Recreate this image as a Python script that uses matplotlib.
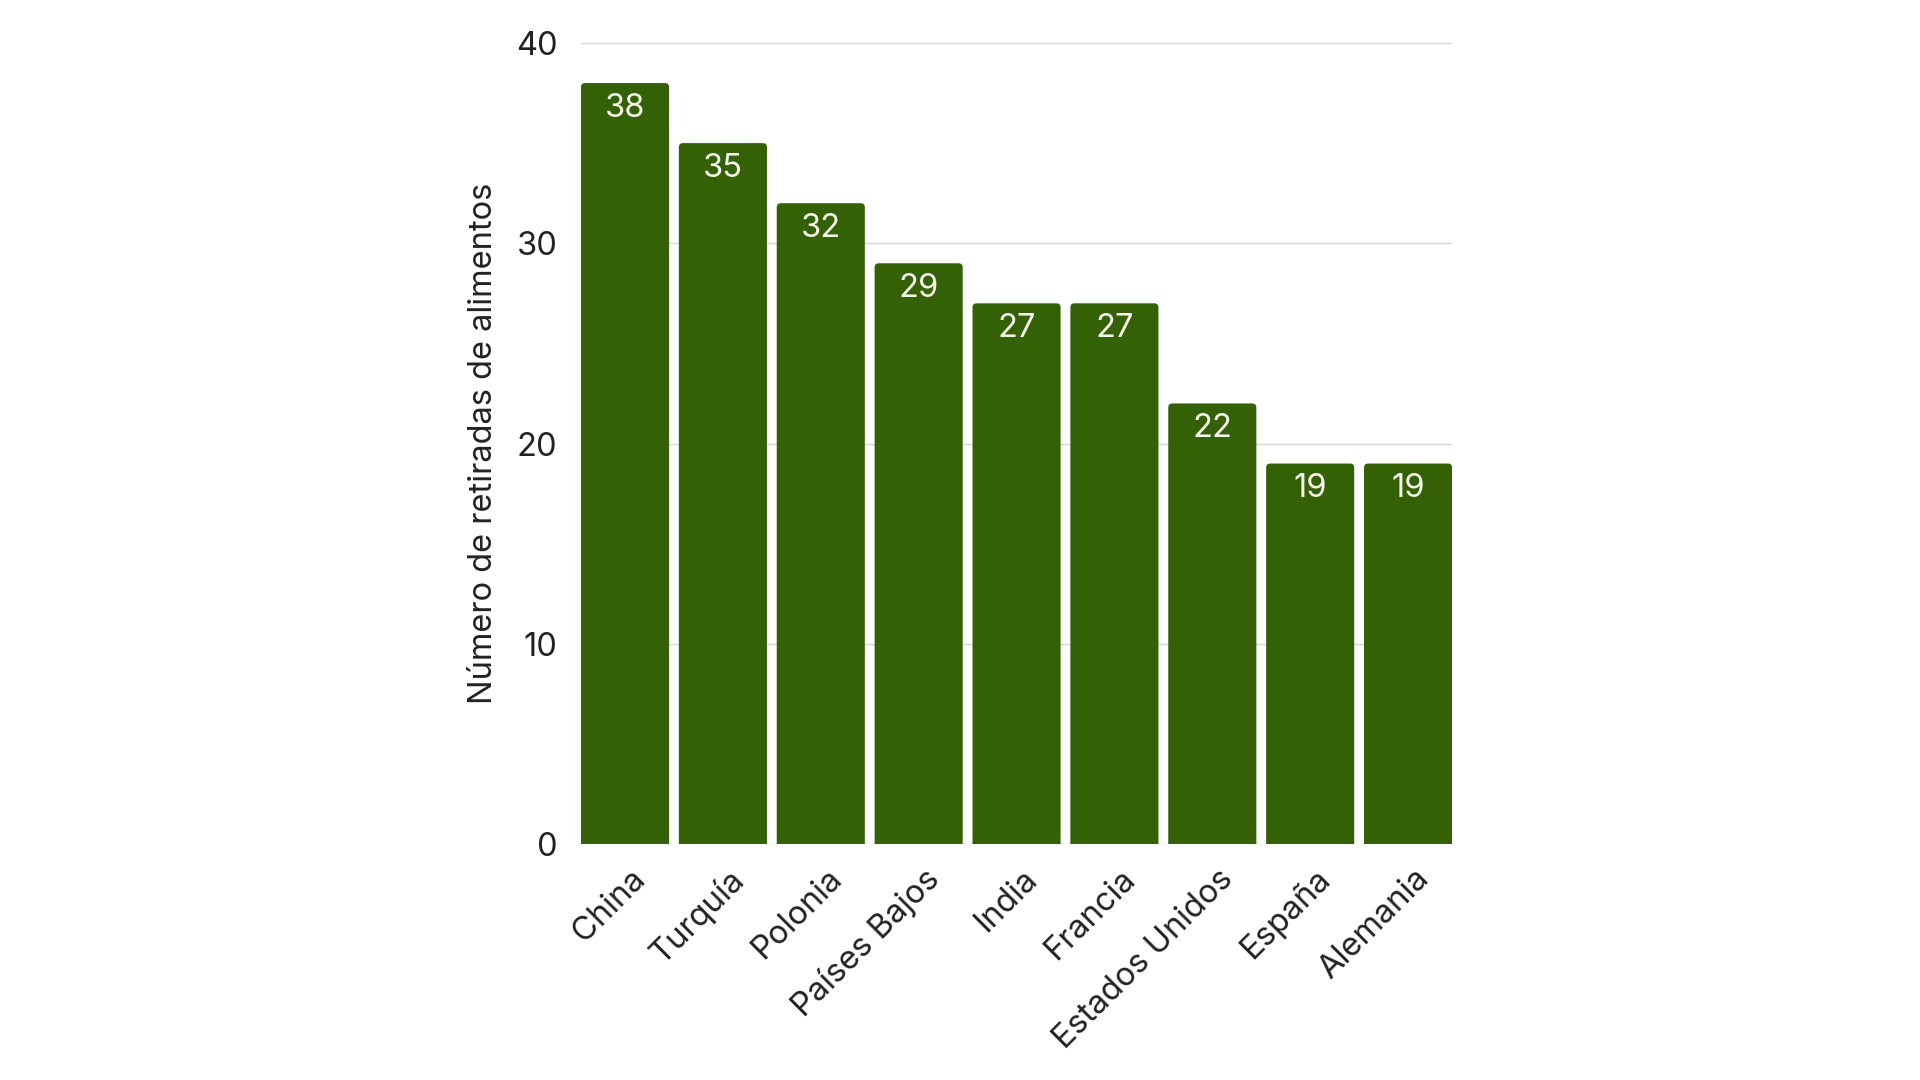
import matplotlib
matplotlib.use("Agg")
from matplotlib import pyplot as plt
from matplotlib.patches import FancyBboxPatch
from matplotlib.transforms import ScaledTranslation

paises = ['China', 'Turquía', 'Polonia', 'Países Bajos', 'India', 'Francia',
          'Estados Unidos', 'España', 'Alemania']
retiradas = [38, 35, 32, 29, 27, 27, 22, 19, 19]

plt.rcParams['font.family'] = ['Inter', 'DejaVu Sans']

BAR_COLOR = '#346106'
BAR_W = 0.9
FS = 23.5

fig = plt.figure(figsize=(19.2, 10.8), dpi=100)
ax = fig.add_axes([0.3026, 0.2185, 0.4537, 0.7417])
ax.set_xlim(-0.45, len(paises) - 0.55)
ax.set_ylim(0, 40)

# bars with rounded top corners (bottom hidden below y=0)
for i, v in enumerate(retiradas):
    p = FancyBboxPatch((i - BAR_W / 2, -2), BAR_W, v + 2,
                       boxstyle='round,pad=0,rounding_size=0.042',
                       mutation_aspect=4.8, facecolor=BAR_COLOR,
                       edgecolor='none', zorder=3, clip_on=True)
    ax.add_patch(p)
    ax.annotate(str(v), (i, v), xytext=(0, -7), textcoords='offset points',
                ha='center', va='top', color='#f4f4ea', fontsize=FS, zorder=4)

ax.set_yticks([0, 10, 20, 30, 40])
ax.grid(axis='y', color='#d6d6d6', linewidth=1, zorder=0)
ax.set_axisbelow(True)
for s in ax.spines.values():
    s.set_visible(False)
ax.tick_params(axis='y', length=0, pad=17, labelsize=FS, labelcolor='#222222')
ax.tick_params(axis='x', length=0, pad=14, labelsize=FS, labelcolor='#222222')
ax.set_xticks(range(len(paises)))
ax.set_xticklabels(paises, rotation=45, ha='right', va='top',
                   rotation_mode='anchor')
shift = ScaledTranslation(5 / 100, 0, fig.dpi_scale_trans)
for lbl in ax.get_xticklabels():
    lbl.set_transform(lbl.get_transform() + shift)
ax.set_ylabel('Número de retiradas de alimentos', fontsize=FS,
              color='#222222', labelpad=12)

fig.savefig('out.png', dpi=100, facecolor='white')
